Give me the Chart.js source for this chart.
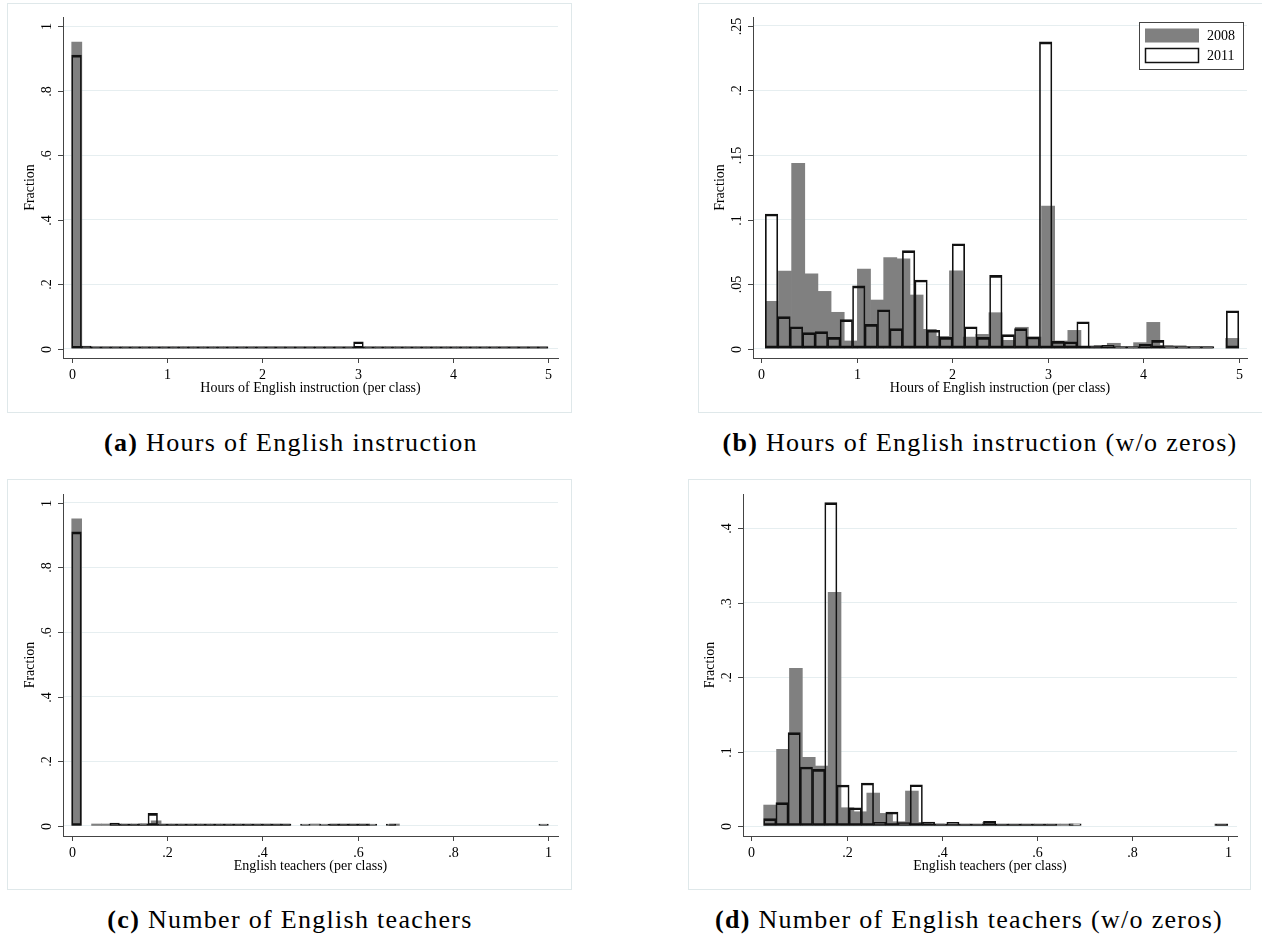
<!DOCTYPE html>
<html>
<head>
<meta charset="utf-8">
<script src="https://cdn.jsdelivr.net/npm/chart.js@4.4.1/dist/chart.umd.min.js"></script>
<style>
  body { margin: 0; background: #fff; width: 1262px; height: 940px; position: relative; overflow: hidden; }
  .box { position: absolute; box-sizing: border-box; border: 1px solid #dfe8ea; }
  canvas { position: absolute; }
  .cap { position: absolute; font-family: "Liberation Serif", serif; font-size: 26px; letter-spacing: 1.3px; white-space: nowrap; transform: translate(-50%, -50%); color: #000; }
</style>
</head>
<body>
<div class="box" style="left:7px;top:3px;width:565px;height:410px"></div>
<canvas id="histA" width="565" height="410" style="left:7px;top:3px"></canvas>
<div class="box" style="left:698px;top:3px;width:565px;height:410px"></div>
<canvas id="histB" width="565" height="410" style="left:698px;top:3px"></canvas>
<div class="box" style="left:7px;top:479px;width:565px;height:411px"></div>
<canvas id="histC" width="565" height="411" style="left:7px;top:479px"></canvas>
<div class="box" style="left:688px;top:479px;width:563px;height:411px"></div>
<canvas id="histD" width="563" height="411" style="left:688px;top:479px"></canvas>

<div class="cap" style="left:291px;top:443px"><b>(a)</b> Hours of English instruction</div>
<div class="cap" style="left:980px;top:443px"><b>(b)</b> Hours of English instruction (w/o zeros)</div>
<div class="cap" style="left:290px;top:920px"><b>(c)</b> Number of English teachers</div>
<div class="cap" style="left:969px;top:920px"><b>(d)</b> Number of English teachers (w/o zeros)</div>

<script>
const seriesLabels = ["2008", "2011"]

const hoursTicks = [0, 1, 2, 3, 4, 5]
const hoursTickLabels = ["0", "1", "2", "3", "4", "5"]
const teacherTicks = [0, .2, .4, .6, .8, 1]
const teacherTickLabels = ["0", ".2", ".4", ".6", ".8", "1"]
const fractionTicksAll = [0, .2, .4, .6, .8, 1]
const fractionLabelsAll = ["0", ".2", ".4", ".6", ".8", "1"]
const fractionTicksHours = [0, .05, .1, .15, .2, .25]
const fractionLabelsHours = ["0", ".05", ".1", ".15", ".2", ".25"]
const fractionTicksTeachers = [0, .1, .2, .3, .4]
const fractionLabelsTeachers = ["0", ".1", ".2", ".3", ".4"]

// (a) hours, all classes -- bins span 0..5.1
const hoursAllRange = [0, 5.1]
const hoursAll2008 = [
    0.95, 0.001, 0.0008, 0.006, 0.002, 0.0008, 0.0008, 0.0008, 0.0008, 0.0008,
    0.0008, 0.0008, 0.0008, 0.0008, 0.003, 0.0008, 0.0008, 0.0008, 0.0008, 0.002,
    0.0008, 0.0008, 0.0008, 0.0008, 0.0008, 0.0008, 0.0008, 0.0008, 0.003, 0.0008,
    0.0008, 0.0008, 0.0008, 0.0008, 0.0008, 0.0008, 0.0008, 0.0008, 0.002, 0.0008,
    0.0008, 0.0008, 0.0008, 0.0008, 0.0008, 0.0008, 0.002, null
]
const hoursAll2011 = [
    0.91, 0.0084, 0.001, 0.002, 0.0006, 0.0006, 0.0006, 0.0006, 0.0006, 0.003,
    0.0006, 0.0006, 0.0006, 0.0006, 0.004, 0.0006, 0.003, 0.0006, 0.0006, 0.004,
    0.0006, 0.0006, 0.0006, 0.0006, 0.003, 0.0006, 0.0006, 0.0006, 0.0006, 0.0217,
    0.0006, 0.0006, 0.0006, 0.0006, 0.0006, 0.0006, 0.0006, 0.0006, 0.0006, 0.0006,
    0.0006, 0.0006, 0.0006, 0.0006, 0.0006, 0.0006, 0.0006, 0.0006, 0.001, null
]

// (b) hours, classes with some English
const hoursPosRange = [0.042, 5]
const hoursPos2008 = [
    0.0367, 0.0602, 0.1436, 0.0579, 0.0444, 0.0282, 0.006, 0.0617, 0.0377, 0.0705,
    0.0697, 0.0416, 0.015, 0.0096, 0.0604, 0.009, 0.0111, 0.0279, 0.0065, 0.0166,
    0.009, 0.1105, 0.006, 0.0142, 0.0015, 0.0025, 0.0042, 0.001, 0.0047, 0.0204,
    0.0026, 0.0023, 0.0013, 0.0008, null, 0.008
]
const hoursPos2011 = [
    0.1043, 0.0248, 0.017, 0.0124, 0.0132, 0.0088, 0.0225, 0.0486, 0.0189, 0.0302,
    0.0155, 0.0759, 0.0532, 0.0143, 0.0088, 0.0813, 0.017, 0.0088, 0.0568, 0.0109,
    0.0155, 0.0091, 0.2376, 0.0057, 0.0054, 0.0209, 0.0023, 0.0026, 0.0016, 0.001,
    0.0034, 0.0065, 0.001, 0.0016, 0.0013, 0.0008, null, 0.0294
]

// (c) teachers, all classes
const teachAllRange = [0, 1]
const teachAll2008 = [
    0.95, null, 0.001, 0.001, 0.004, 0.001, 0.002, 0.006, 0.016, 0.002,
    0.001, 0.001, 0.001, 0.001, 0.001, 0.001, 0.002, 0.001, 0.001, 0.001,
    0.001, 0.001, null, null, 0.001, null, 0.001, 0.001, 0.001, 0.001,
    null, null, 0.001, null, null, null, null, null, null, null,
    null, null, null, null, null, null, null, null
]
const teachAll2011 = [
    0.91, null, null, null, 0.009, 0.002, 0.003, 0.007, 0.039, 0.002,
    0.001, 0.001, 0.003, 0.001, 0.001, 0.001, 0.003, 0.001, 0.001, 0.001,
    0.001, 0.001, 0.001, null, 0.001, null, 0.001, 0.001, 0.001, 0.001,
    0.001, 0.001, null, 0.001, null, null, null, null, null, null,
    null, null, null, null, null, null, null, null, null, 0.001
]

// (d) teachers, classes with some English
const teachPosRange = [0.026, 1]
const teachPos2008 = [
    0.0282, 0.103, 0.2119, 0.0923, 0.0806, 0.314, 0.0246, 0.0192, 0.0443, 0.017,
    0.0058, 0.047, 0.005, 0.003, 0.0025, 0.002, 0.001, 0.005, 0.001, 0.001,
    0.001, 0.001, 0.001, 0.001, null, null, null, null, null, null,
    null, null, null, null, null, 0.001
]
const teachPos2011 = [
    0.0099, 0.0314, 0.1254, 0.0793, 0.0761, 0.4345, 0.0551, 0.0246, 0.0578, 0.0049,
    0.0188, 0.0045, 0.0555, 0.0054, 0.0027, 0.005, 0.0018, 0.0008, 0.0063, 0.001,
    0.001, 0.001, 0.001, 0.001, null, 0.003, null, null, null, null,
    null, null, null, null, null, null, null, 0.002
]

// bar centres for equal-width bins over a range
function binPoints(range, values) {
    const w = (range[1] - range[0]) / values.length
    return values.map((v, i) => ({ x: range[0] + (i + 0.5) * w, y: v }))
}

// stata style axes: outside ticks, vertical y labels
const stataAxes = {
    id: "stataAxes",
    afterDraw(chart, args, o) {
        const { ctx, chartArea: a, scales: { x, y } } = chart
        ctx.save()
        ctx.strokeStyle = "#444"
        ctx.lineWidth = 1
        ctx.fillStyle = "#000"
        ctx.font = '14px "Liberation Serif"'
        ctx.textAlign = "center"
        ctx.textBaseline = "middle"
        o.xTicks.forEach((v, i) => {
            const px = Math.round(x.getPixelForValue(v)) + 0.5
            ctx.beginPath(); ctx.moveTo(px, a.bottom); ctx.lineTo(px, a.bottom + 5); ctx.stroke()
            ctx.fillText(o.xLabels[i], px, a.bottom + 17)
        })
        o.yTicks.forEach((v, i) => {
            const py = Math.round(y.getPixelForValue(v)) + 0.5
            ctx.beginPath(); ctx.moveTo(a.left - 5, py); ctx.lineTo(a.left, py); ctx.stroke()
            ctx.save()
            ctx.translate(a.left - 16, py)
            ctx.rotate(-Math.PI / 2)
            ctx.fillText(o.yLabels[i], 0, 0)
            ctx.restore()
        })
        ctx.fillText(o.xTitle, (a.left + a.right) / 2, a.bottom + 30)
        ctx.translate(a.left - 33, (a.top + a.bottom) / 2)
        ctx.rotate(-Math.PI / 2)
        ctx.fillText(o.yTitle, 0, 0)
        ctx.restore()
    }
}

const stataLegend = {
    id: "stataLegend",
    afterDraw(chart, args, o) {
        if (!o.show) return
        const { ctx, chartArea: a } = chart
        const w = 104, h = 47
        const left = a.right - 4 - w, top = a.top + 5
        ctx.save()
        ctx.fillStyle = "#fff"
        ctx.fillRect(left, top, w, h)
        ctx.strokeStyle = "#444"
        ctx.lineWidth = 1
        ctx.strokeRect(left + 0.5, top + 0.5, w, h)
        ctx.font = '14px "Liberation Serif"'
        ctx.textBaseline = "middle"
        chart.data.datasets.forEach((ds, i) => {
            const sy = top + 6.5 + i * 20
            if (i === 0) {
                ctx.fillStyle = ds.backgroundColor
                ctx.fillRect(left + 6, sy, 54, 14)
            } else {
                ctx.strokeStyle = ds.borderColor
                ctx.lineWidth = 1.5
                ctx.strokeRect(left + 6.5, sy, 53, 14)
            }
            ctx.fillStyle = "#000"
            ctx.fillText(ds.label, left + 68, sy + 7.5)
        })
        ctx.restore()
    }
}

function histogram(id, p) {
    const fixTicks = vals => scale => { scale.ticks = vals.map(v => ({ value: v })) }
    return new Chart(document.getElementById(id), {
        type: "bar",
        data: {
            datasets: [{
                label: seriesLabels[0],
                data: binPoints(p.range, p.y2008),
                xAxisID: "x2008",
                backgroundColor: "#808080",
                borderWidth: 0,
                order: 2
            }, {
                label: seriesLabels[1],
                data: binPoints(p.range, p.y2011),
                xAxisID: "x",
                backgroundColor: "rgba(0,0,0,0)",
                borderColor: "#111",
                borderWidth: { top: 2, bottom: 2, left: 1, right: 1 },
                borderSkipped: false,
                order: 1
            }]
        },
        options: {
            responsive: false,
            animation: false,
            layout: { padding: p.pad },
            datasets: {
                bar: { grouped: false, barPercentage: 1, categoryPercentage: 1, minBarLength: 2 }
            },
            scales: {
                x: {
                    type: "linear", min: p.xMin, max: p.xMax, offset: false,
                    grid: { display: false, drawTicks: false, offset: false },
                    border: { color: "#444", width: 1 },
                    ticks: { display: false },
                    afterBuildTicks: fixTicks(p.xTicks)
                },
                x2008: { type: "linear", display: false, min: p.xMin, max: p.xMax, offset: false },
                y: {
                    min: p.yMin, max: p.yMax,
                    grid: { color: "#e6eef0", drawTicks: false },
                    border: { color: "#444", width: 1 },
                    ticks: { display: false },
                    afterBuildTicks: fixTicks(p.yTicks)
                }
            },
            plugins: {
                legend: { display: false },
                tooltip: { enabled: false },
                stataAxes: {
                    xTicks: p.xTicks, xLabels: p.xLabels, yTicks: p.yTicks, yLabels: p.yLabels,
                    xTitle: p.xTitle, yTitle: "Fraction"
                },
                stataLegend: { show: !!p.legend }
            }
        },
        plugins: [stataAxes, stataLegend]
    })
}

histogram("histA", {
    range: hoursAllRange, y2008: hoursAll2008, y2011: hoursAll2011,
    pad: { left: 56, top: 14, right: 14, bottom: 55 },
    xMin: -0.0913, xMax: 5.103, yMin: -0.0288, yMax: 1.028,
    xTicks: hoursTicks, xLabels: hoursTickLabels, yTicks: fractionTicksAll, yLabels: fractionLabelsAll,
    xTitle: "Hours of English instruction (per class)"
})
histogram("histB", {
    range: hoursPosRange, y2008: hoursPos2008, y2011: hoursPos2011,
    pad: { left: 55, top: 14, right: 16, bottom: 55 },
    xMin: -0.087, xMax: 5.086, yMin: -0.0072, yMax: 0.2569,
    xTicks: hoursTicks, xLabels: hoursTickLabels, yTicks: fractionTicksHours, yLabels: fractionLabelsHours,
    xTitle: "Hours of English instruction (per class)", legend: true
})
histogram("histC", {
    range: teachAllRange, y2008: teachAll2008, y2011: teachAll2011,
    pad: { left: 56, top: 15, right: 14, bottom: 54 },
    xMin: -0.0183, xMax: 1.0202, yMin: -0.031, yMax: 1.027,
    xTicks: teacherTicks, xLabels: teacherTickLabels, yTicks: fractionTicksAll, yLabels: fractionLabelsAll,
    xTitle: "English teachers (per class)"
})
histogram("histD", {
    range: teachPosRange, y2008: teachPos2008, y2011: teachPos2011,
    pad: { left: 55, top: 15, right: 14, bottom: 54 },
    xMin: -0.0174, xMax: 1.0195, yMin: -0.0134, yMax: 0.4461,
    xTicks: teacherTicks, xLabels: teacherTickLabels, yTicks: fractionTicksTeachers, yLabels: fractionLabelsTeachers,
    xTitle: "English teachers (per class)"
})
</script>
</body>
</html>
